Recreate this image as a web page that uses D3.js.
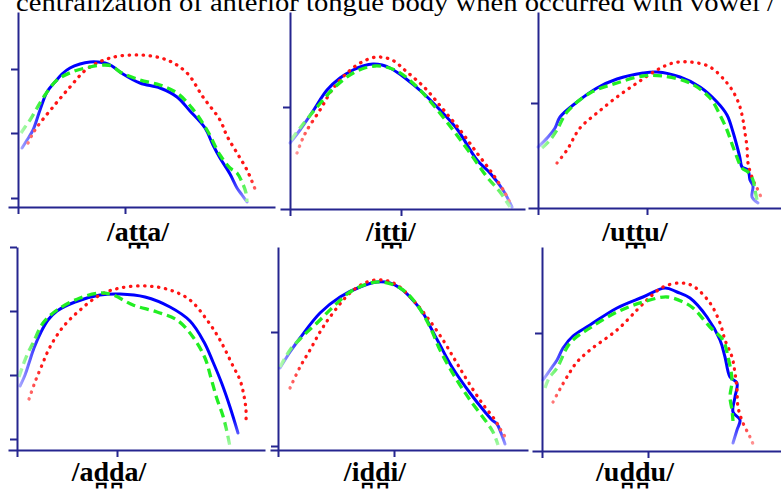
<!DOCTYPE html>
<html lang="en">
<head>
  <meta charset="UTF-8">
  <title>Tongue contours</title>
  <script src="https://d3js.org/d3.v7.min.js"></script>
  <style>
    body { margin: 0; background: #fff; }
  </style>
</head>
<body>
<script>
// caption line cut off at the top of the figure
var titleText = "centralization of anterior tongue body when occurred with vowel /";

var panelLabels = ["/at\u032At\u032Aa/", "/it\u032At\u032Ai/", "/ut\u032At\u032Au/",
                   "/ad\u032Ad\u032Aa/", "/id\u032Ad\u032Ai/", "/ud\u032Ad\u032Au/"];

// tick values, per panel (arbitrary units from the panel origin)
var xTicks = [[0, 107], [0, 111], [0, 109], [0, 100], [0, 116], [0, 106]];
var yTicks = [[9, 74, 138], [102], [105], [11, 75, 139, 203], [4, 118], [118]];

// tongue contours [x, y], one set per panel
var attaBlue  = [[4,59],[9,67],[15,77],[22,97],[29,115],[37,125],[44,133],[52,139],[62,143],[72,145],[80,145],[87,144],[94,141],[105,133],[122,124],[142,119],[159,110],[172,96],[187,79],[195,62],[202,49],[212,33],[219,19],[224,12],[229,5]];
var attaGreen = [[3,74],[7,80],[12,87],[19,99],[27,112],[39,127],[54,135],[72,140],[87,142],[94,141],[102,135],[122,127],[142,122],[159,114],[174,99],[189,77],[202,52],[212,39],[219,34],[224,25],[228,14],[229,5]];
var attaRed   = [[10,64],[14,72],[19,80],[35,100],[52,120],[69,138],[92,149],[122,152],[149,147],[169,134],[185,110],[202,87],[209,71],[219,54],[229,37],[237,18]];

var ittiBlue  = [[0,66],[10,79],[23,98],[37,119],[50,131],[63,139],[73,143],[83,145],[92,144],[100,141],[115,131],[133,116],[150,99],[167,80],[187,49],[200,36],[213,19],[222,2]];
var ittiGreen = [[1,69],[10,81],[28,103],[45,122],[65,137],[85,143],[105,139],[125,124],[145,102],[163,79],[180,56],[197,32],[210,17],[220,2]];
var ittiRed   = [[7,56],[12,69],[17,79],[30,99],[42,119],[57,136],[72,147],[87,152],[102,149],[117,137],[135,121],[152,101],[170,79],[187,56],[202,36],[215,16],[220,6]];

var uttuBlue  = [[0,61],[10,71],[17,80],[22,91],[39,106],[59,120],[79,129],[105,135],[119,136],[142,131],[162,121],[179,106],[189,93],[195,76],[200,58],[202,50],[204,41],[210,38],[212,28],[215,22],[214,11],[220,5]];
var uttuGreen = [[4,60],[12,68],[19,78],[29,96],[52,115],[79,125],[105,132],[125,132],[152,125],[172,110],[182,93],[189,78],[194,64],[197,56],[204,40],[210,36],[215,28],[217,18],[219,8]];
var uttuRed   = [[19,45],[29,58],[42,80],[59,95],[79,111],[99,125],[119,138],[135,145],[152,146],[172,141],[189,125],[197,113],[202,101],[205,88],[207,75],[209,61],[210,45],[215,28],[219,20],[223,11]];

var addaBlue  = [[3,64],[8,75],[12,87],[17,102],[24,118],[31,130],[40,139],[58,148],[83,155],[103,156],[128,153],[153,143],[173,129],[187,108],[196,88],[205,66],[213,43],[221,17]];
var addaGreen = [[2,73],[5,82],[10,95],[16,107],[26,127],[40,140],[63,152],[83,157],[96,155],[116,145],[140,138],[160,130],[176,113],[188,92],[194,72],[200,51],[206,34],[210,18],[213,3]];
var addaRed   = [[12,51],[18,68],[25,85],[33,103],[46,123],[63,140],[83,155],[103,162],[130,164],[153,160],[173,150],[190,130],[203,110],[216,84],[223,70],[227,54],[229,40],[229,28]];

var iddiBlue  = [[2,82],[12,98],[22,112],[42,137],[62,153],[82,163],[99,168],[112,167],[122,162],[132,153],[145,137],[154,120],[162,105],[174,83],[192,57],[207,38],[214,30],[219,26],[223,17],[227,6]];
var iddiGreen = [[2,83],[12,100],[24,113],[40,128],[55,143],[72,158],[89,166],[104,168],[122,162],[137,148],[152,123],[162,100],[177,73],[192,50],[207,30],[215,18],[220,5]];
var iddiRed   = [[12,62],[22,83],[32,100],[42,118],[52,133],[72,157],[89,168],[105,170],[119,165],[135,150],[149,133],[165,110],[177,90],[189,70],[204,47],[217,30],[224,18],[230,9]];

var udduBlue  = [[1,71],[8,81],[15,91],[21,103],[31,115],[48,126],[75,143],[101,154],[123,163],[135,159],[148,153],[165,134],[178,111],[183,94],[188,74],[195,68],[193,54],[191,39],[198,31],[195,21],[191,8]];
var udduGreen = [[3,63],[7,73],[15,83],[28,108],[48,123],[75,139],[101,149],[125,154],[141,149],[151,143],[168,124],[181,111],[186,94],[190,71],[188,54],[190,41],[191,30]];
var udduRed   = [[11,49],[18,62],[28,79],[35,89],[48,101],[75,121],[95,141],[108,154],[121,164],[138,168],[151,165],[168,148],[178,128],[183,111],[190,94],[193,78],[195,61],[196,44],[201,28],[208,14],[213,2]];

var panelSeries = [
  [attaBlue, attaRed, attaGreen],
  [ittiBlue, ittiRed, ittiGreen],
  [uttuBlue, uttuRed, uttuGreen],
  [addaBlue, addaRed, addaGreen],
  [iddiBlue, iddiRed, iddiGreen],
  [udduBlue, udduRed, udduGreen]
];

// where each panel sits on the page
var layout = [
  {ox: 18,  oy: 207, top: 12,  xMin: -10, xMax: 257, lx: 138, ly: 241},
  {ox: 290, oy: 209, top: 12,  xMin: -10, xMax: 235, lx: 391, ly: 241},
  {ox: 538, oy: 208, top: 12,  xMin: -10, xMax: 243, lx: 635, ly: 241},
  {ox: 17,  oy: 450, top: 247, xMin: -9,  xMax: 248, lx: 109, ly: 481},
  {ox: 278, oy: 450, top: 247, xMin: -8,  xMax: 250, lx: 375, ly: 481},
  {ox: 542, oy: 451, top: 247, xMin: -10, xMax: 239, lx: 635, ly: 481}
];

// blue solid, red dotted, green dashed (green drawn last, on top)
var styles = [
  {color: "#0000ff", width: 3,   dash: null,      cap: "round"},
  {color: "#ff1414", width: 3.3, dash: "0.4,6.6", cap: "round"},
  {color: "#22ee22", width: 3.3, dash: "9,5",     cap: "butt"}
];

var axisColor = "#25258f";
var serif = "'Liberation Serif', 'Times New Roman', 'DejaVu Serif', serif";

var svg = d3.select("body").append("svg")
    .attr("width", 781)
    .attr("height", 492);

svg.append("rect").attr("width", 781).attr("height", 492).attr("fill", "#fff");

svg.append("text")
    .attr("x", 16)
    .attr("y", 11)
    .attr("font-family", serif)
    .attr("font-size", 26)
    .attr("textLength", 759)
    .attr("lengthAdjust", "spacingAndGlyphs")
    .attr("fill", "#000")
    .text(titleText);

var defs = svg.append("defs");

layout.forEach(function(p, i) {
  var x = d3.scaleLinear().domain([p.xMin, p.xMax]).range([p.ox + p.xMin, p.ox + p.xMax]);
  var y = d3.scaleLinear().domain([0, p.oy - p.top]).range([p.oy, p.top]);

  // fade the ends of the contours (left start and bottom tail)
  var gh = defs.append("linearGradient").attr("id", "fh" + i)
      .attr("gradientUnits", "userSpaceOnUse")
      .attr("x1", p.ox).attr("x2", p.ox + 26).attr("y1", 0).attr("y2", 0);
  gh.append("stop").attr("offset", 0).attr("stop-color", "#444");
  gh.append("stop").attr("offset", 1).attr("stop-color", "#fff");
  var gv = defs.append("linearGradient").attr("id", "fv" + i)
      .attr("gradientUnits", "userSpaceOnUse")
      .attr("x1", 0).attr("x2", 0).attr("y1", p.oy - 32).attr("y2", p.oy - 2);
  gv.append("stop").attr("offset", 0).attr("stop-color", "#fff");
  gv.append("stop").attr("offset", 1).attr("stop-color", "#555");

  defs.append("mask").attr("id", "mh" + i).attr("maskUnits", "userSpaceOnUse")
      .attr("x", 0).attr("y", 0).attr("width", 781).attr("height", 492)
    .append("rect").attr("x", 0).attr("y", 0).attr("width", 781).attr("height", 492)
      .attr("fill", "url(#fh" + i + ")");
  defs.append("mask").attr("id", "mv" + i).attr("maskUnits", "userSpaceOnUse")
      .attr("x", 0).attr("y", 0).attr("width", 781).attr("height", 492)
    .append("rect").attr("x", 0).attr("y", 0).attr("width", 781).attr("height", 492)
      .attr("fill", "url(#fv" + i + ")");

  var g = svg.append("g");

  // axes
  var ya = g.append("g")
      .attr("transform", "translate(" + p.ox + ",0)")
      .call(d3.axisLeft(y).tickValues(yTicks[i]).tickSize(7).tickSizeOuter(0).tickFormat(""));
  var xa = g.append("g")
      .attr("transform", "translate(0," + p.oy + ")")
      .call(d3.axisBottom(x).tickValues(xTicks[i]).tickSize(7).tickSizeOuter(0).tickFormat(""));
  [ya, xa].forEach(function(a) {
    a.selectAll("path, line").attr("stroke", axisColor).attr("stroke-width", 2);
  });

  var line = d3.line()
      .x(function(d) { return x(d[0]); })
      .y(function(d) { return y(d[1]); })
      .curve(d3.curveCatmullRom.alpha(0.5));

  var curves = g.append("g").attr("mask", "url(#mv" + i + ")")
    .append("g").attr("mask", "url(#mh" + i + ")");

  panelSeries[i].forEach(function(s, k) {
    var st = styles[k];
    curves.append("path")
        .datum(s)
        .attr("fill", "none")
        .attr("stroke", st.color)
        .attr("stroke-width", st.width)
        .attr("stroke-linecap", st.cap)
        .attr("stroke-linejoin", "round")
        .attr("stroke-dasharray", st.dash)
        .attr("d", line);
  });

  g.append("text")
      .attr("x", p.lx)
      .attr("y", p.ly)
      .attr("text-anchor", "middle")
      .attr("font-family", serif)
      .attr("font-weight", "bold")
      .attr("font-size", 28)
      .attr("fill", "#000")
      .text(panelLabels[i]);
});
</script>
</body>
</html>
